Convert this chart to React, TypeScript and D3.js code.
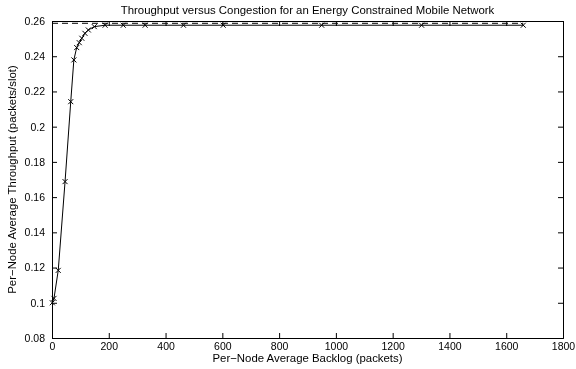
import { useRef, useEffect } from 'react';
import * as d3 from 'd3';

const backlog = [1, 7, 22, 46, 66, 77, 87, 96, 105, 116, 128, 149, 187, 251, 328, 463, 603, 950, 1302, 1660];
const throughput = [
  0.1, 0.1025, 0.1184, 0.1688, 0.2142, 0.2379, 0.2449, 0.2477, 0.2502, 0.253, 0.2549, 0.2568, 0.2576,
  0.2576, 0.2576, 0.2576, 0.2576, 0.2576, 0.2576, 0.2576,
];
const limitValue = 0.2587;
const limitSpan = [0, 1660];
const xTicks = [0, 200, 400, 600, 800, 1000, 1200, 1400, 1600, 1800];
const yTicks = [0.08, 0.1, 0.12, 0.14, 0.16, 0.18, 0.2, 0.22, 0.24, 0.26];

const App = () => {
  const svgRef = useRef<SVGSVGElement>(null);

  useEffect(() => {
    if (!svgRef.current) return;

    const width = 576;
    const height = 369;
    const margin = { top: 21, right: 13, bottom: 31, left: 52 };
    const font = 'Liberation Sans, Arial, Helvetica, sans-serif';

    const svg = d3.select(svgRef.current).attr('width', width).attr('height', height);
    svg.selectAll('*').remove();

    const x = d3.scaleLinear().domain([0, 1800]).range([margin.left, width - margin.right]);
    const y = d3.scaleLinear().domain([0.08, 0.26]).range([height - margin.bottom, margin.top]);

    const fmt = (v: number) => String(+v.toFixed(2));
    const tickLen = 5;

    // axes: ticks inward on all four sides (matlab box)
    const bottom = svg
      .append('g')
      .attr('transform', `translate(0,${y(0.08)})`)
      .call(d3.axisBottom(x).tickValues(xTicks).tickSize(-tickLen).tickPadding(5).tickFormat((d) => fmt(+d)));
    const top = svg
      .append('g')
      .attr('transform', `translate(0,${y(0.26)})`)
      .call(d3.axisTop(x).tickValues(xTicks).tickSize(-tickLen).tickFormat(() => ''));
    const left = svg
      .append('g')
      .attr('transform', `translate(${x(0)},0)`)
      .call(d3.axisLeft(y).tickValues(yTicks).tickSize(-tickLen).tickPadding(7).tickFormat((d) => fmt(+d)));
    const right = svg
      .append('g')
      .attr('transform', `translate(${x(1800)},0)`)
      .call(d3.axisRight(y).tickValues(yTicks).tickSize(-tickLen).tickFormat(() => ''));

    [bottom, top, left, right].forEach((g) => {
      g.select('.domain').attr('stroke', '#000').attr('stroke-width', 1);
      g.selectAll('.tick line').attr('stroke', '#000');
      g.selectAll('.tick text').attr('fill', '#000').style('font-family', font).style('font-size', '10.5px');
    });

    // dashed asymptote
    svg
      .append('line')
      .attr('x1', x(limitSpan[0]))
      .attr('x2', x(limitSpan[1]))
      .attr('y1', y(limitValue))
      .attr('y2', y(limitValue))
      .attr('stroke', '#000')
      .attr('stroke-width', 1)
      .attr('stroke-dasharray', '6,4');

    const data = backlog.map((b, i) => ({ b, t: throughput[i] }));

    const line = d3
      .line<{ b: number; t: number }>()
      .x((d) => x(d.b))
      .y((d) => y(d.t));

    svg
      .append('path')
      .datum(data)
      .attr('d', line)
      .attr('fill', 'none')
      .attr('stroke', '#000')
      .attr('stroke-width', 1);

    const s = 2.5;
    svg
      .append('g')
      .selectAll('path')
      .data(data)
      .enter()
      .append('path')
      .attr('d', (d) => {
        const cx = x(d.b);
        const cy = y(d.t);
        return `M${cx - s},${cy - s}L${cx + s},${cy + s}M${cx - s},${cy + s}L${cx + s},${cy - s}`;
      })
      .attr('stroke', '#000')
      .attr('stroke-width', 1);

    svg
      .append('text')
      .attr('x', (x(0) + x(1800)) / 2)
      .attr('y', 14)
      .attr('text-anchor', 'middle')
      .style('font-family', font)
      .style('font-size', '11.4px')
      .text('Throughput versus Congestion for an Energy Constrained Mobile Network');

    svg
      .append('text')
      .attr('x', (x(0) + x(1800)) / 2)
      .attr('y', 362)
      .attr('text-anchor', 'middle')
      .style('font-family', font)
      .style('font-size', '11.4px')
      .text('Per\u2212Node Average Backlog (packets)');

    svg
      .append('text')
      .attr('transform', `translate(16,${(y(0.08) + y(0.26)) / 2}) rotate(-90)`)
      .attr('text-anchor', 'middle')
      .style('font-family', font)
      .style('font-size', '11.4px')
      .text('Per\u2212Node Average Throughput (packets/slot)');
  }, []);

  return (
    <div style={{ position: 'fixed', left: 0, top: 0 }}>
      <svg ref={svgRef} style={{ display: 'block' }}></svg>
    </div>
  );
};

export default App;
